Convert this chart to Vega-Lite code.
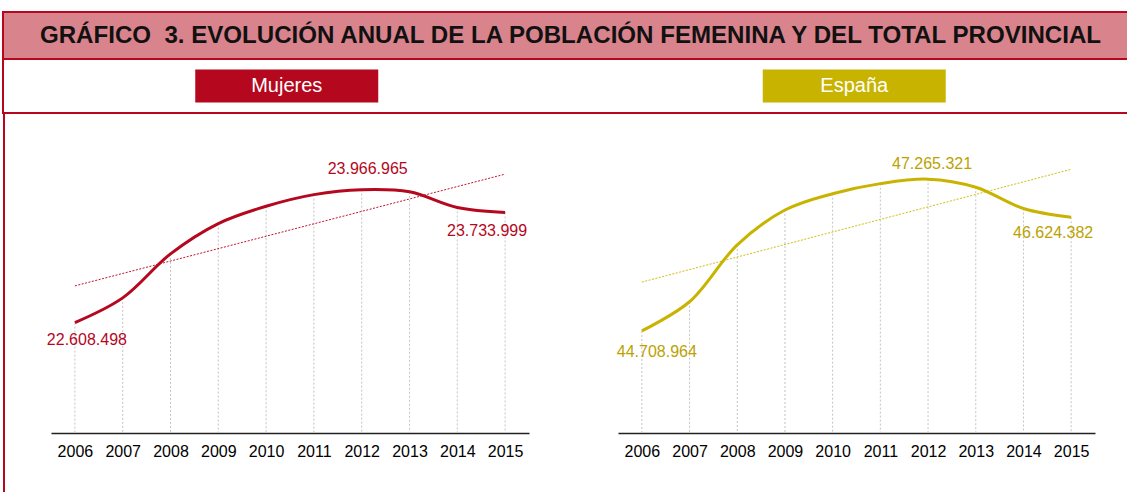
{
  "$schema": "https://vega.github.io/schema/vega-lite/v6.json",
  "padding": {"left": 2, "top": 11, "right": 0, "bottom": 0},
  "background": "white",
  "bounds": "flush",
  "spacing": 0,
  "datasets": {
    "pob": [
      {"serie": "Mujeres", "anio": 2006, "valor": 22608498},
      {"serie": "Mujeres", "anio": 2007, "valor": 22860775},
      {"serie": "Mujeres", "anio": 2008, "valor": 23310085},
      {"serie": "Mujeres", "anio": 2009, "valor": 23620000},
      {"serie": "Mujeres", "anio": 2010, "valor": 23797000},
      {"serie": "Mujeres", "anio": 2011, "valor": 23916000},
      {"serie": "Mujeres", "anio": 2012, "valor": 23966965},
      {"serie": "Mujeres", "anio": 2013, "valor": 23945000},
      {"serie": "Mujeres", "anio": 2014, "valor": 23785000},
      {"serie": "Mujeres", "anio": 2015, "valor": 23733999},
      {"serie": "España", "anio": 2006, "valor": 44708964},
      {"serie": "España", "anio": 2007, "valor": 45200737},
      {"serie": "España", "anio": 2008, "valor": 46157822},
      {"serie": "España", "anio": 2009, "valor": 46745807},
      {"serie": "España", "anio": 2010, "valor": 47021031},
      {"serie": "España", "anio": 2011, "valor": 47190493},
      {"serie": "España", "anio": 2012, "valor": 47265321},
      {"serie": "España", "anio": 2013, "valor": 47129783},
      {"serie": "España", "anio": 2014, "valor": 46771341},
      {"serie": "España", "anio": 2015, "valor": 46624382}
    ],
    "series": [{"serie": "Mujeres"}, {"serie": "España"}]
  },
  "vconcat": [
    {
      "width": 1135,
      "height": 47,
      "view": {"stroke": "#B5071D", "strokeWidth": 2, "fill": "#D9838C"},
      "data": {"values": [{"titulo": "GRÁFICO \u00a03. EVOLUCIÓN ANUAL DE LA POBLACIÓN FEMENINA Y DEL TOTAL PROVINCIAL"}]},
      "mark": {"type": "text", "fontSize": 24.1, "fontWeight": "bold", "color": "#111111", "font": "Liberation Sans"},
      "encoding": {"text": {"field": "titulo"}}
    },
    {
      "width": 1135,
      "height": 54,
      "view": {"stroke": "#B5071D", "strokeWidth": 2, "fill": "white"},
      "data": {"name": "series"},
      "encoding": {
        "x": {"field": "serie", "type": "nominal", "sort": null, "scale": {"type": "point", "padding": 0.5}, "axis": null},
        "y": {"datum": 0, "type": "quantitative", "scale": {"domain": [-1, 1]}, "axis": null}
      },
      "layer": [
        {
          "mark": {"type": "rect", "width": 183, "height": 33},
          "encoding": {
            "color": {"field": "serie", "type": "nominal", "sort": null, "scale": {"domain": ["Mujeres", "España"], "range": ["#B5071D", "#C8B400"]}, "legend": null}
          }
        },
        {
          "mark": {"type": "text", "color": "white", "fontSize": 20, "font": "Liberation Sans", "baseline": "middle"},
          "encoding": {"text": {"field": "serie"}}
        }
      ]
    },
    {
      "bounds": "flush",
      "spacing": 46,
      "hconcat": [
        {
          "width": 2,
          "height": 380,
          "view": {"fill": "#B5071D", "stroke": null},
          "data": {"values": [{"t": ""}]},
          "mark": {"type": "text"},
          "encoding": {"text": {"field": "t"}}
        },
        {
          "bounds": "flush",
          "spacing": 89,
          "hconcat": [
            {
              "width": 478,
              "height": 320,
              "data": {"name": "pob"},
              "transform": [{"filter": "datum.serie === 'Mujeres'"}],
              "encoding": {
                "x": {"field": "anio", "type": "ordinal", "scale": {"type": "point", "padding": 0.5}},
                "y": {"field": "valor", "type": "quantitative", "scale": {"domain": [21480000, 24750000]}, "axis": null}
              },
              "layer": [
                {"mark": {"type": "rule", "color": "#c4c4c4", "strokeWidth": 1, "strokeDash": [2, 2]}, "encoding": {"y2": {"datum": 21480000}}},
                {"transform": [{"regression": "valor", "on": "anio"}], "mark": {"type": "line", "color": "#C0142C", "strokeWidth": 1, "strokeDash": [2, 1.5]}, "encoding": {}},
                {"mark": {"type": "line", "color": "#B5071D", "strokeWidth": 3, "interpolate": "catmull-rom"}, "encoding": {}},
                {"transform": [{"filter": "datum.anio === 2006"}], "mark": {"type": "text", "color": "#B5071D", "fontSize": 16, "dx": 12, "dy": 17}, "encoding": {"text": {"field": "valor", "type": "quantitative", "format": ",d"}}},
                {"transform": [{"filter": "datum.anio === 2012"}], "mark": {"type": "text", "color": "#B5071D", "fontSize": 16, "dx": 6, "dy": -21}, "encoding": {"text": {"field": "valor", "type": "quantitative", "format": ",d"}}},
                {"transform": [{"filter": "datum.anio === 2015"}], "mark": {"type": "text", "color": "#B5071D", "fontSize": 16, "dx": -18, "dy": 19}, "encoding": {"text": {"field": "valor", "type": "quantitative", "format": ",d"}}}
              ]
            },
            {
              "width": 477,
              "height": 320,
              "data": {"name": "pob"},
              "transform": [{"filter": "datum.serie === 'España'"}],
              "encoding": {
                "x": {"field": "anio", "type": "ordinal", "scale": {"type": "point", "padding": 0.5}},
                "y": {"field": "valor", "type": "quantitative", "scale": {"domain": [42990000, 48380000]}, "axis": null}
              },
              "layer": [
                {"mark": {"type": "rule", "color": "#c4c4c4", "strokeWidth": 1, "strokeDash": [2, 2]}, "encoding": {"y2": {"datum": 42990000}}},
                {"transform": [{"regression": "valor", "on": "anio"}], "mark": {"type": "line", "color": "#D2BE10", "strokeWidth": 1, "strokeDash": [2, 1.5]}, "encoding": {}},
                {"mark": {"type": "line", "color": "#C8B400", "strokeWidth": 3, "interpolate": "catmull-rom"}, "encoding": {}},
                {"transform": [{"filter": "datum.anio === 2006"}], "mark": {"type": "text", "color": "#BBA200", "fontSize": 16, "dx": 15, "dy": 21}, "encoding": {"text": {"field": "valor", "type": "quantitative", "format": ",d"}}},
                {"transform": [{"filter": "datum.anio === 2012"}], "mark": {"type": "text", "color": "#BBA200", "fontSize": 16, "dx": 4, "dy": -15}, "encoding": {"text": {"field": "valor", "type": "quantitative", "format": ",d"}}},
                {"transform": [{"filter": "datum.anio === 2015"}], "mark": {"type": "text", "color": "#BBA200", "fontSize": 16, "dx": -18, "dy": 16}, "encoding": {"text": {"field": "valor", "type": "quantitative", "format": ",d"}}}
              ]
            }
          ]
        }
      ]
    }
  ],
  "config": {
    "font": "Liberation Sans",
    "view": {"stroke": null},
    "locale": {"number": {"decimal": ",", "thousands": ".", "grouping": [3], "currency": ["", " €"]}},
    "axis": {"title": null, "grid": false, "ticks": false, "tickSize": 0, "domainColor": "#222222", "domainWidth": 1.5, "labelFontSize": 16, "labelColor": "#000000", "labelPadding": 10, "labelAngle": 0, "labelFont": "Liberation Sans"},
    "text": {"font": "Liberation Sans"}
  }
}
